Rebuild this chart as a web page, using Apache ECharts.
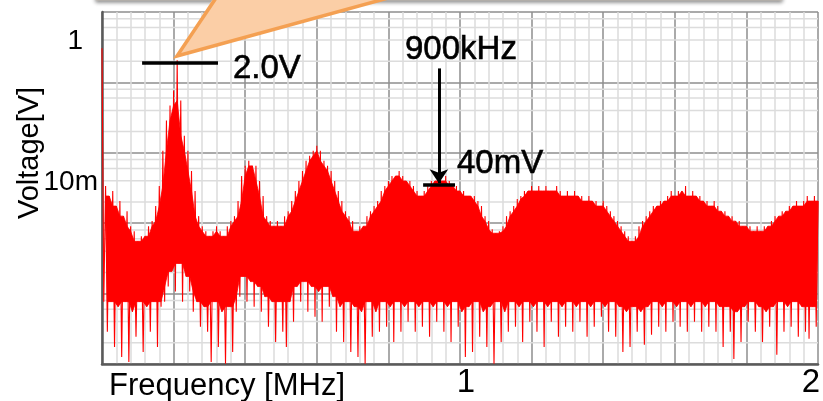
<!DOCTYPE html>
<html>
<head>
<meta charset="utf-8">
<script src="https://cdn.jsdelivr.net/npm/echarts@6/dist/echarts.min.js"></script>
<style>html,body{margin:0;padding:0;background:#fff}#c{width:823px;height:401px}</style>
</head>
<body>
<div id="c"></div>
<script>
// ---- data ----
const freqStepMHz = 0.01;           // spacing of the envelope samples
// upper edge of the noisy spectrum trace [V], one per 10 kHz step from 0 MHz
const upperV = [3.06,0.0338,0.0243,0.0287,0.0175,0.0206,0.0126,0.0148,0.00906,0.00769,
0.00553,0.00652,0.00652,0.00906,0.0107,0.0175,0.0338,0.107,0.287,0.469,
0.769,2.06,0.553,0.175,0.107,0.0553,0.0287,0.0126,0.00906,0.00769,
0.00652,0.00769,0.00906,0.00769,0.00652,0.00906,0.0107,0.0126,0.0206,0.0469,
0.0652,0.0769,0.0652,0.0652,0.0398,0.0243,0.0126,0.0107,0.00906,0.0107,
0.00906,0.0126,0.0148,0.0206,0.0287,0.0398,0.0553,0.0769,0.0906,0.107,
0.126,0.107,0.0769,0.0652,0.0553,0.0398,0.0287,0.0206,0.0148,0.0126,
0.0107,0.00769,0.00906,0.00906,0.0126,0.0148,0.0175,0.0206,0.0287,0.0338,
0.0398,0.0469,0.0469,0.0553,0.0469,0.0398,0.0398,0.0338,0.0287,0.0243,
0.0287,0.0338,0.0398,0.0398,0.0469,0.0398,0.0469,0.0398,0.0338,0.0338,
0.0287,0.0287,0.0243,0.0243,0.0243,0.0206,0.0175,0.0126,0.0107,0.0082,
0.0072,0.00769,0.00906,0.0126,0.0148,0.0175,0.0221,0.0243,0.0287,0.0287,
0.0338,0.0287,0.0338,0.0287,0.0338,0.0287,0.0287,0.0338,0.0287,0.0243,
0.0287,0.0243,0.0287,0.0243,0.0243,0.0206,0.0243,0.0206,0.0206,0.0175,
0.0206,0.0175,0.0148,0.0126,0.0107,0.00906,0.00769,0.00652,0.00553,0.00652,
0.00906,0.0107,0.0126,0.0148,0.0175,0.0175,0.0206,0.0206,0.0243,0.0287,
0.0243,0.0287,0.0287,0.0338,0.0243,0.0287,0.0243,0.0243,0.0206,0.0206,
0.0175,0.0206,0.0175,0.0148,0.0148,0.0126,0.0126,0.0107,0.0107,0.00906,
0.00906,0.00906,0.00769,0.00906,0.00769,0.00906,0.00906,0.0107,0.0126,0.0126,
0.0148,0.0148,0.0175,0.0175,0.0206,0.0175,0.0206,0.0243,0.0206,0.0243,
0.0206];
// lower edge (noise dips) of the trace [V], half a step after each upper sample
const lowerV = [0.000769,0.000287,0.000769,0.000175,0.000652,0.000126,0.000769,0.000107,0.000553,0.000243,
0.000769,0.000148,0.000652,0.000287,0.000769,0.000175,0.000652,0.000769,0.00126,0.00206,
0.00107,0.00268,0.000769,0.00175,0.00107,0.000553,0.000769,0.000338,0.000652,0.000287,
0.000107,0.000769,0.000175,0.000553,0.000101,0.000652,0.000148,0.000553,0.000906,0.00175,
0.000769,0.00148,0.000652,0.00126,0.000553,0.000906,0.000338,0.000769,0.000206,0.000769,
0.000287,0.000175,0.000769,0.000398,0.00126,0.000769,0.00148,0.000553,0.00126,0.000469,
0.00107,0.000398,0.00126,0.000652,0.000906,0.000287,0.000652,0.000206,0.000769,0.000148,
0.000652,0.000126,0.000553,0.000101,0.000769,0.000243,0.000553,0.000287,0.000769,0.000338,
0.000652,0.000206,0.000769,0.000287,0.000652,0.000398,0.000769,0.000287,0.000652,0.000338,
0.000769,0.000243,0.000652,0.000398,0.000769,0.000287,0.000652,0.000206,0.000769,0.000338,
0.000553,0.000126,0.000652,0.000148,0.000769,0.000243,0.000553,0.000175,0.000652,0.000101,
0.000769,0.000206,0.000553,0.000287,0.000769,0.000338,0.000652,0.000206,0.000769,0.000398,
0.000652,0.000287,0.000769,0.000175,0.000652,0.000398,0.000769,0.000243,0.000652,0.000338,
0.000769,0.000287,0.000652,0.000398,0.000769,0.000243,0.000652,0.000338,0.000769,0.000469,
0.000652,0.000287,0.000769,0.000243,0.000652,0.000148,0.000553,0.000175,0.000652,0.000287,
0.000553,0.000187,0.000652,0.00026,0.000769,0.000338,0.000652,0.000287,0.000769,0.000398,
0.000652,0.000338,0.000769,0.000287,0.000652,0.000398,0.000769,0.000287,0.000652,0.000338,
0.000769,0.000287,0.000652,0.000175,0.000652,0.000287,0.000118,0.000553,0.000206,0.000652,
0.000398,0.000769,0.000287,0.000652,0.000206,0.000553,0.000338,0.000652,0.000135,0.000769,
0.000287,0.000652,0.000338,0.000769,0.000243,0.000652,0.000287,0.000228,0.000652,0.000338];
// axis ticks
const xMin = 0, xMax = 2, xInterval = 0.2;
const xTickLabels = {'1': '1', '2': '2'};
const yMin = 1e-4, yMax = 10;
const yTickLabels = {'0': '1', '-2': '10m'};        // keyed by log10(value)
const minorMultipliers = [2, 4, 6, 8];
const decadeStarts = [1e-4, 1e-3, 1e-2, 1e-1, 1];
// annotations (data coordinates)
const peakMark = {fromMHz: 0.112, toMHz: 0.324, volts: 1.9, text: '2.0V'};
const harmMark = {fromMHz: 0.897, toMHz: 0.986, volts: 0.035, text: '40mV'};
const arrowMark = {mhz: 0.941, topV: 1.58, tipV: 0.037, text: '900kHz'};

// ---- build ----
const trace = [];
for (let i = 0; i < upperV.length; i++) {
  trace.push([i * freqStepMHz, upperV[i]]);
  if (i < lowerV.length) trace.push([i * freqStepMHz + freqStepMHz / 2, lowerV[i]]);
}
// solid core of the band: below the lowest neighbouring peak, above the shallowest neighbouring dip
const coreBottom = lowerV.map((v, i) => Math.max(v, lowerV[i - 1] || v, lowerV[i + 1] || v));
const coreTop = upperV.map((v, i) => (i === 0 ? v : Math.min(v, i > 1 ? upperV[i - 1] : v, upperV[i + 1] || v)));
const minorY = [];
decadeStarts.forEach(d => minorMultipliers.forEach(m => minorY.push([0, m * d])));

const FONT = "'Liberation Sans', Arial, sans-serif";
const chart = echarts.init(document.getElementById('c'), null, {renderer: 'canvas'});
chart.setOption({
  animation: false,
  backgroundColor: '#ffffff',
  grid: {left: 102, right: 5, top: 12, bottom: 37, containLabel: false, outerBoundsMode: 'none'},
  xAxis: {
    type: 'value', min: xMin, max: xMax, interval: xInterval,
    axisLine: {show: true, onZero: false, lineStyle: {color: '#5a5a5a', width: 2.5}},
    axisTick: {show: false},
    splitLine: {show: true, lineStyle: {color: '#8e8e8e', width: 1.5}},
    minorTick: {show: false, splitNumber: 5},
    minorSplitLine: {show: true, lineStyle: {color: '#dcdcdc', width: 1.5}},
    axisLabel: {
      show: true, margin: 2, showMaxLabel: true, showMinLabel: true, hideOverlap: false,
      formatter: v => {
        const k = String(Math.round(v * 10) / 10);
        if (k === '1') return '{a|' + xTickLabels[k] + '}';
        if (k === '2') return '{b|' + xTickLabels[k] + '}';
        return '';
      },
      rich: {
        a: {fontSize: 33, fontFamily: FONT, color: '#000', padding: [0, 0, 0, 12]},
        b: {fontSize: 33, fontFamily: FONT, color: '#000', padding: [0, 14, 0, 0]}
      }
    },
    name: 'Frequency [MHz]', nameLocation: 'start', nameGap: -7, nameMoveOverlap: false,
    nameTextStyle: {fontSize: 31, fontFamily: FONT, color: '#000', align: 'left', verticalAlign: 'top', lineHeight: 44}
  },
  yAxis: {
    type: 'log', logBase: 10, min: yMin, max: yMax,
    axisLine: {show: true, lineStyle: {color: '#5a5a5a', width: 2.5}},
    axisTick: {show: false},
    splitLine: {show: true, lineStyle: {color: '#8e8e8e', width: 1.5}},
    axisLabel: {
      show: true, margin: 4, showMaxLabel: true, hideOverlap: false,
      verticalAlign: 'middle', padding: [0, 0, 82, 0],
      formatter: v => {
        const k = String(Math.round(Math.log10(v)));
        if (k === '0') return '{one|' + yTickLabels[k] + '}';
        if (k === '-2') return '{ten|' + yTickLabels[k] + '}';
        return '';
      },
      rich: {
        one: {fontSize: 28, fontFamily: FONT, color: '#000', padding: [0, 15, 0, 0]},
        ten: {fontSize: 28, fontFamily: FONT, color: '#000'}
      }
    },
    name: 'Voltage[V]', nameLocation: 'middle', nameGap: 58, nameMoveOverlap: false,
    nameTextStyle: {fontSize: 29, fontFamily: FONT, color: '#000', padding: [0, 0, 0, 70]}
  },
  series: [
    {
      type: 'custom', silent: true, z: 0, animation: false,
      data: minorY,
      renderItem: (params, api) => {
        const v = api.value(1);
        const p1 = api.coord([xMin, v]);
        const p2 = api.coord([xMax, v]);
        return {type: 'line', shape: {x1: p1[0], y1: p1[1], x2: p2[0], y2: p2[1]},
                style: {stroke: '#dcdcdc', lineWidth: 1.5}};
      }
    },
    {
      type: 'custom', silent: true, z: 2, animation: false,
      data: [[0, upperV[0]]],
      renderItem: (params, api) => {
        const pts = [];
        for (let i = 1; i < coreTop.length; i++) pts.push(api.coord([i * freqStepMHz, coreTop[i]]));
        for (let i = coreBottom.length - 1; i >= 1; i--) pts.push(api.coord([i * freqStepMHz + freqStepMHz / 2, coreBottom[i]]));
        return {type: 'polygon', shape: {points: pts}, style: {fill: '#ff0000', stroke: '#ff0000', lineWidth: 0.8}};
      }
    },
    {
      type: 'line', name: 'spectrum', data: trace, z: 3,
      showSymbol: false, symbol: 'none', sampling: false, clip: true,
      lineStyle: {color: '#ff0000', width: 1.1},
      emphasis: {disabled: true}, silent: true,
      markLine: {
        silent: true, symbol: 'none', animation: false,
        label: {show: false},
        emphasis: {disabled: true},
        data: [
          [{coord: [peakMark.fromMHz, peakMark.volts], lineStyle: {color: '#000', width: 3.5, type: 'solid'}},
           {coord: [peakMark.toMHz, peakMark.volts]}],
          [{coord: [harmMark.fromMHz, harmMark.volts], lineStyle: {color: '#000', width: 3.5, type: 'solid'}},
           {coord: [harmMark.toMHz, harmMark.volts]}],
          [{coord: [arrowMark.mhz, arrowMark.topV], symbol: 'none', lineStyle: {color: '#000', width: 3, type: 'solid'}},
           {coord: [arrowMark.mhz, arrowMark.tipV], symbol: 'arrow', symbolSize: 14}]
        ]
      }
    }
  ],
  graphic: [
    {type: 'rect', z: 20, silent: true,
     shape: {x: 96, y: -40, width: 686, height: 40},
     style: {fill: '#f9d2ae', stroke: '#c8bfb6', lineWidth: 1, shadowBlur: 4, shadowColor: 'rgba(0,0,0,0.45)', shadowOffsetY: 1.5}},
    {type: 'polygon', z: 21, silent: true,
     shape: {points: [[177, 56], [214, -3], [392, -3]]},
     style: {fill: '#fbcea6'}},
    {type: 'polyline', z: 22, silent: true,
     shape: {points: [[216, -2], [177, 56], [388, -2]]},
     style: {stroke: '#f4a052', lineWidth: 3.5, fill: null}},
    {type: 'text', z: 30, silent: true, x: 233, y: 69,
     style: {text: peakMark.text, fontSize: 33, fontFamily: FONT, fill: '#000', stroke: '#000', lineWidth: 0.6, align: 'left', verticalAlign: 'middle'}},
    {type: 'text', z: 30, silent: true, x: 405, y: 50,
     style: {text: arrowMark.text, fontSize: 33, fontFamily: FONT, fill: '#000', stroke: '#000', lineWidth: 0.6, align: 'left', verticalAlign: 'middle'}},
    {type: 'text', z: 30, silent: true, x: 457, y: 164,
     style: {text: harmMark.text, fontSize: 33, fontFamily: FONT, fill: '#000', stroke: '#000', lineWidth: 0.6, align: 'left', verticalAlign: 'middle'}}
  ]
});
</script>
</body>
</html>
